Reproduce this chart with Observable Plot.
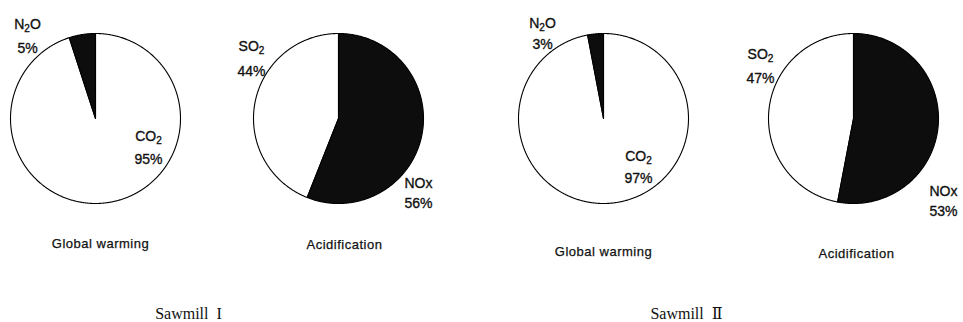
<!DOCTYPE html>
<html><head><meta charset="utf-8">
<script src="https://cdn.jsdelivr.net/npm/d3@7"></script>
<script src="https://cdn.jsdelivr.net/npm/@observablehq/plot@0.6"></script>
<style>body{margin:0;background:#fff} svg{display:block}</style>
</head><body><div id="chart"></div>
<script>
// ---------- data ----------
const sawmills = ["Sawmill  I", "Sawmill  Ⅱ"];
const impacts = ["Global warming", "Acidification"];
const warmingGases = ["CO₂", "N₂O"];
const warmingShares = [[95, 5], [97, 3]];     // Sawmill I, Sawmill II
const acidGases = ["NOx", "SO₂"];
const acidShares = [[56, 44], [53, 47]];      // Sawmill I, Sawmill II
const darkGases = ["N₂O", "NOx"];

// ---------- layout (positions only) ----------
const W = 963, H = 322, R = 85;
const pieCenters = [[95, 118], [338, 118], [603, 118], [853, 118]];
// label anchor per pie and gas: [x, name baseline, percent baseline]
const labelLayout = [
  {"CO₂": [148, 140, 163], "N₂O": [27, 28, 52]},
  {"NOx": [418, 187, 207], "SO₂": [251, 50, 75]},
  {"CO₂": [638, 160, 182], "N₂O": [542, 27, 48]},
  {"NOx": [943, 195, 215], "SO₂": [760, 58, 82]}
];
const titleLayout = [[100, 247], [344, 248], [603, 255], [856, 257]];
const captionLayout = [[188, 318], [686, 318]];

// ---------- build tables ----------
const pies = [];
sawmills.forEach((s, si) => {
  pies.push({sawmill: s, impact: impacts[0], gases: warmingGases, values: warmingShares[si]});
  pies.push({sawmill: s, impact: impacts[1], gases: acidGases, values: acidShares[si]});
});

const slicePts = [];
const labels = [];
pies.forEach((p, pi) => {
  const [cx, cy] = pieCenters[pi];
  const arcs = d3.pie().sort(null).value(d => d)(p.values);
  arcs.forEach((a, gi) => {
    const gas = p.gases[gi];
    const id = pi + "-" + gas;
    const dark = darkGases.includes(gas);
    const n = Math.max(2, Math.ceil((a.endAngle - a.startAngle) / (Math.PI / 360)));
    slicePts.push({id, dark, x: cx, y: cy});
    for (let k = 0; k <= n; k++) {
      const t = a.startAngle + (a.endAngle - a.startAngle) * k / n;
      slicePts.push({id, dark, x: cx + R * Math.sin(t), y: cy - R * Math.cos(t)});
    }
    slicePts.push({id, dark, x: cx, y: cy});
    const [lx, ly1, ly2] = labelLayout[pi][gas];
    labels.push({x: lx, y: ly1, text: gas});
    labels.push({x: lx, y: ly2, text: p.values[gi] + "%"});
  });
});
const titles = pies.map((p, i) => ({x: titleLayout[i][0], y: titleLayout[i][1], text: p.impact}));
const captions = sawmills.map((s, i) => ({x: captionLayout[i][0], y: captionLayout[i][1], text: s}));

const spaced = (ls) => (index, scales, values, dims, ctx, next) => {
  const g = next(index, scales, values, dims, ctx);
  g.setAttribute("letter-spacing", ls);
  return g;
};
// turn the Unicode subscript ₂ into a real lowered, smaller "2"
const subscripts = (index, scales, values, dims, ctx, next) => {
  const g = next(index, scales, values, dims, ctx);
  g.querySelectorAll("text").forEach(t => {
    const s = t.textContent;
    if (!s.includes("₂")) return;
    t.textContent = "";
    s.split(/(₂)/).forEach(part => {
      if (!part) return;
      const ts = document.createElementNS("http://www.w3.org/2000/svg", "tspan");
      if (part === "₂") {
        ts.textContent = "2";
        ts.setAttribute("font-size", "10");
        ts.setAttribute("dy", "3");
      } else {
        ts.textContent = part;
        if (t.childNodes.length) ts.setAttribute("dy", "-3");
      }
      t.appendChild(ts);
    });
  });
  return g;
};

const chart = Plot.plot({
  width: W, height: H, margin: 0,
  x: {type: "linear", domain: [0, W], range: [0, W], axis: null},
  y: {type: "linear", domain: [0, H], range: [0, H], axis: null},
  style: {background: "#fff", fontFamily: "'Liberation Sans', Arial, sans-serif"},
  marks: [
    Plot.line(slicePts.filter(d => !d.dark), {x: "x", y: "y", z: "id", fill: "#fff", stroke: "#000", strokeWidth: 1.1, curve: "linear"}),
    Plot.line(slicePts.filter(d => d.dark), {x: "x", y: "y", z: "id", fill: "#0d0d0d", stroke: "#000", strokeWidth: 1.1, curve: "linear"}),
    Plot.text(labels, {x: "x", y: "y", text: "text", lineAnchor: "bottom", textAnchor: "middle", fontSize: 14, fill: "#111", stroke: "#111", strokeWidth: 0.35, render: subscripts}),
    Plot.text(titles, {x: "x", y: "y", text: "text", lineAnchor: "bottom", textAnchor: "middle", fontSize: 13, fill: "#111", stroke: "#111", strokeWidth: 0.25, render: spaced("0.5")}),
    Plot.text(captions, {x: "x", y: "y", text: "text", lineAnchor: "bottom", textAnchor: "middle", fontSize: 16, fill: "#111", fontFamily: "'Liberation Serif', 'DejaVu Serif', 'Times New Roman', serif"})
  ]
});
document.getElementById("chart").appendChild(chart);
</script>
</body></html>
